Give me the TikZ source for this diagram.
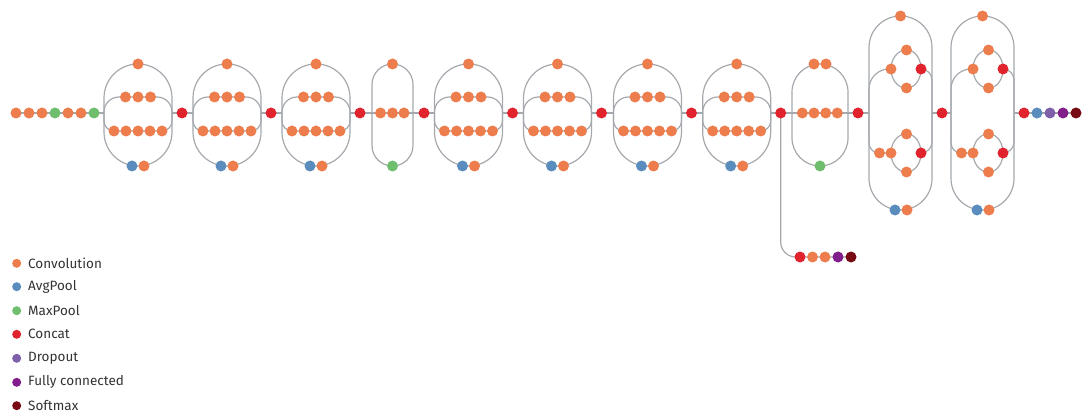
\documentclass[tikz,border=0pt]{standalone}
\usepackage{fontspec}
\setmainfont{Fira Sans}
\pgfdeclarelayer{bg}
\pgfsetlayers{bg,main}
\definecolor{cConv}{HTML}{EE7D4E}
\definecolor{cAvg}{HTML}{5A8CBE}
\definecolor{cMax}{HTML}{6EBE6E}
\definecolor{cCat}{HTML}{E1232D}
\definecolor{cDrop}{HTML}{7D5FAA}
\definecolor{cFC}{HTML}{821E8C}
\definecolor{cSoft}{HTML}{780A14}
\definecolor{cLine}{HTML}{A5A9AD}
\definecolor{cText}{HTML}{333333}
\tikzset{
  dot/.style={circle,inner sep=0pt,minimum size=11pt},
  conv/.style={dot,fill=cConv},
  avg/.style={dot,fill=cAvg},
  maxp/.style={dot,fill=cMax},
  cat/.style={dot,fill=cCat},
  drop/.style={dot,fill=cDrop},
  fc/.style={dot,fill=cFC},
  soft/.style={dot,fill=cSoft},
  link/.style={draw=cLine,line width=1.2pt},
  key/.style={circle,inner sep=0pt,minimum size=9pt},
  keytext/.style={anchor=west,font=\fontsize{13.5}{16}\selectfont,text=cText,inner sep=0pt},
}
% Inception block with four branches: #1 name, #2 centre x, #3 previous node
\newcommand\InceptA[3]{%
  \coordinate (#1in) at (#2-34,-113);
  \coordinate (#1out) at (#2+34,-113);
  \node[conv] (#1t) at (#2,-64) {};
  \node[conv] (#1a1) at (#2-12.5,-97) {};
  \node[conv] (#1a2) at (#2,-97) {};
  \node[conv] (#1a3) at (#2+12.5,-97) {};
  \node[conv] (#1b1) at (#2-24,-131) {};
  \node[conv] (#1b2) at (#2-12,-131) {};
  \node[conv] (#1b3) at (#2,-131) {};
  \node[conv] (#1b4) at (#2+12,-131) {};
  \node[conv] (#1b5) at (#2+24,-131) {};
  \node[avg] (#1p) at (#2-6,-166) {};
  \node[conv] (#1q) at (#2+6,-166) {};
  \node[cat] (#1c) at (#2+44,-113) {};
  \begin{pgfonlayer}{bg}
    \draw[link] (#3.center) -- (#1in);
    \draw[link] (#1in) -- ++(0,15) arc[start angle=180,end angle=0,radius=34] -- (#1out);
    \draw[link] (#1in) -- ++(0,1) arc[start angle=180,end angle=90,radius=15]
      -- (#1a1.center) -- (#1a2.center) -- (#1a3.center) -- (#2+19,-97)
      arc[start angle=90,end angle=0,radius=15] -- (#1out);
    \draw[link] (#1in) -- ++(0,-8) arc[start angle=180,end angle=270,radius=10]
      -- (#1b2.center) -- (#1b3.center) -- (#1b4.center) -- (#1b5.center)
      arc[start angle=270,end angle=360,radius=10] -- (#1out);
    \draw[link] (#1in) -- ++(0,-19) arc[start angle=180,end angle=360,radius=34] -- (#1out);
    \draw[link] (#1out) -- (#1c.center);
  \end{pgfonlayer}
}
% Inception block of the 8x8 grid: #1 name, #2 x shift, #3 previous node
\newcommand\InceptC[3]{%
  \coordinate (#1in) at (869+#2,-113);
  \coordinate (#1out) at (932+#2,-113);
  \node[conv] (#1t) at (900.5+#2,-16) {};
  \node[conv] (#1UL) at (891+#2,-69) {};
  \node[conv] (#1UT) at (906.5+#2,-50) {};
  \node[cat]  (#1UR) at (921+#2,-69) {};
  \node[conv] (#1UB) at (906.5+#2,-88) {};
  \node[conv] (#1DL2) at (879.5+#2,-153) {};
  \node[conv] (#1DL) at (891+#2,-153) {};
  \node[conv] (#1DT) at (906.5+#2,-134) {};
  \node[cat]  (#1DR) at (921+#2,-153) {};
  \node[conv] (#1DB) at (906.5+#2,-172) {};
  \node[avg] (#1p) at (895+#2,-210) {};
  \node[conv] (#1q) at (907+#2,-210) {};
  \node[cat] (#1c) at (942+#2,-113) {};
  \begin{pgfonlayer}{bg}
    \draw[link] (#3.center) -- (#1in);
    \draw[link] (#1in) -- ++(0,65.5) arc[start angle=180,end angle=0,radius=31.5] -- (#1out);
    \draw[link] (#1in) -- ++(0,24) arc[start angle=180,end angle=90,radius=20] -- (#1UL.center);
    \draw[link] (#1UL.center) to[out=90,in=180] (#1UT.center) to[out=0,in=90] (#1UR.center);
    \draw[link] (#1UL.center) to[out=-90,in=180] (#1UB.center) to[out=0,in=-90] (#1UR.center);
    \draw[link] (#1UR.center) arc[start angle=90,end angle=0,radius=11] -- (#1out);
    \draw[link] (#1in) -- ++(0,-30) arc[start angle=180,end angle=270,radius=10] -- (#1DL2.center) -- (#1DL.center);
    \draw[link] (#1DL.center) to[out=90,in=180] (#1DT.center) to[out=0,in=90] (#1DR.center);
    \draw[link] (#1DL.center) to[out=-90,in=180] (#1DB.center) to[out=0,in=-90] (#1DR.center);
    \draw[link] (#1DR.center) arc[start angle=270,end angle=360,radius=11] -- (#1out);
    \draw[link] (#1in) -- ++(0,-65.5) arc[start angle=180,end angle=360,radius=31.5] -- (#1out);
    \draw[link] (#1out) -- (#1c.center);
  \end{pgfonlayer}
}
\begin{document}
\begin{tikzpicture}[x=1pt,y=1pt]
\useasboundingbox (0,0) rectangle (1084,-414);
% stem
\node[conv] (i1) at (16,-113) {};
\node[conv] (i2) at (29,-113) {};
\node[conv] (i3) at (42,-113) {};
\node[maxp] (i4) at (55,-113) {};
\node[conv] (i5) at (68,-113) {};
\node[conv] (i6) at (81,-113) {};
\node[maxp] (i7) at (94,-113) {};
\begin{pgfonlayer}{bg}
  \draw[link] (i1.center) -- (i2.center) -- (i3.center) -- (i4.center) -- (i5.center) -- (i6.center) -- (i7.center);
\end{pgfonlayer}
\InceptA{M1}{138}{i7}
\InceptA{M2}{227}{M1c}
\InceptA{M3}{316}{M2c}
% reduction block 1
\coordinate (R1in) at (372,-113);
\coordinate (R1out) at (413,-113);
\node[conv] (R1t) at (392.5,-64) {};
\node[conv] (R1m1) at (380.5,-113) {};
\node[conv] (R1m2) at (392.5,-113) {};
\node[conv] (R1m3) at (404,-113) {};
\node[maxp] (R1g) at (392.5,-166) {};
\node[cat] (R1c) at (424,-113) {};
\begin{pgfonlayer}{bg}
  \draw[link] (M3c.center) -- (R1in);
  \draw[link] (R1in) -- ++(0,28.5) arc[start angle=180,end angle=0,radius=20.5] -- (R1out);
  \draw[link] (R1in) -- (R1m1.center) -- (R1m2.center) -- (R1m3.center) -- (R1out) -- (R1c.center);
  \draw[link] (R1in) -- ++(0,-32.5) arc[start angle=180,end angle=360,radius=20.5] -- (R1out);
\end{pgfonlayer}
\InceptA{M4}{468.5}{R1c}
\InceptA{M5}{557.5}{M4c}
\InceptA{M6}{647.5}{M5c}
\InceptA{M7}{736.7}{M6c}
% reduction block 2
\coordinate (R2in) at (792,-113);
\coordinate (R2out) at (848,-113);
\node[conv] (R2t1) at (814,-64) {};
\node[conv] (R2t2) at (826,-64) {};
\node[conv] (R2m1) at (802.3,-113) {};
\node[conv] (R2m2) at (814,-113) {};
\node[conv] (R2m3) at (825.7,-113) {};
\node[conv] (R2m4) at (837.3,-113) {};
\node[maxp] (R2g) at (820,-166) {};
\node[cat] (R2c) at (858,-113) {};
\begin{pgfonlayer}{bg}
  \draw[link] (M7c.center) -- (R2in);
  \draw[link] (R2in) -- ++(0,21) arc[start angle=180,end angle=0,radius=28] -- (R2out);
  \draw[link] (R2in) -- (R2m1.center) -- (R2m2.center) -- (R2m3.center) -- (R2m4.center) -- (R2out) -- (R2c.center);
  \draw[link] (R2in) -- ++(0,-25) arc[start angle=180,end angle=360,radius=28] -- (R2out);
\end{pgfonlayer}
% auxiliary head
\node[cat] (x1) at (800,-257) {};
\node[conv] (x2) at (812.5,-257) {};
\node[conv] (x3) at (825,-257) {};
\node[fc] (x4) at (838,-257) {};
\node[soft] (x5) at (851,-257) {};
\begin{pgfonlayer}{bg}
  \draw[link] (M7c.center) -- ++(0,-129) arc[start angle=180,end angle=270,radius=15] -- (x1.center) -- (x2.center) -- (x3.center) -- (x4.center) -- (x5.center);
\end{pgfonlayer}
\InceptC{C1}{0}{R2c}
\InceptC{C2}{82}{C1c}
% head
\node[avg] (f2) at (1037,-113) {};
\node[drop] (f3) at (1050,-113) {};
\node[fc] (f4) at (1063,-113) {};
\node[soft] (f5) at (1076,-113) {};
\begin{pgfonlayer}{bg}
  \draw[link] (C2c.center) -- (f2.center) -- (f3.center) -- (f4.center) -- (f5.center);
\end{pgfonlayer}
% legend
\node[key,fill=cConv] (k1) at (16.7,-263.3) {};
\node[key,fill=cAvg]  (k2) at (16.7,-286.7) {};
\node[key,fill=cMax]  (k3) at (16.7,-310.7) {};
\node[key,fill=cCat]  (k4) at (16.7,-334.3) {};
\node[key,fill=cDrop] (k5) at (16.7,-358.3) {};
\node[key,fill=cFC]   (k6) at (16.7,-382.3) {};
\node[key,fill=cSoft] (k7) at (16.7,-405.7) {};
\node[keytext] (l1) at (28,-263.3) {Convolution};
\node[keytext] (l2) at (28,-286.7) {AvgPool};
\node[keytext] (l3) at (28,-310.7) {MaxPool};
\node[keytext] (l4) at (28,-334.3) {Concat};
\node[keytext] (l5) at (28,-358.3) {Dropout};
\node[keytext] (l6) at (28,-382.3) {Fully connected};
\node[keytext] (l7) at (28,-405.7) {Softmax};
\end{tikzpicture}
\end{document}
